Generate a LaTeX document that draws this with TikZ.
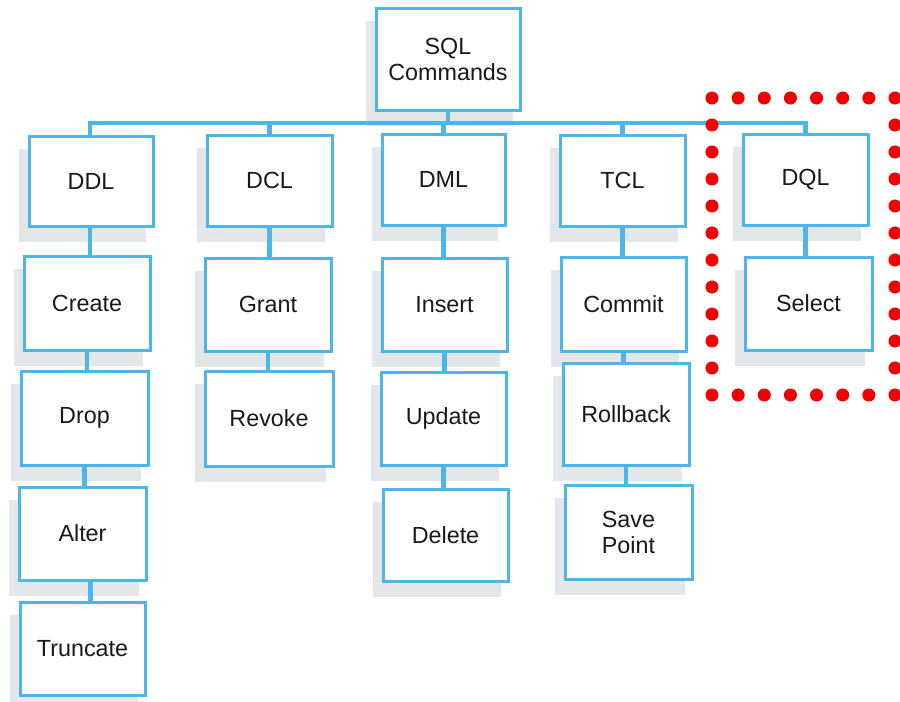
\documentclass[tikz,border=0pt]{standalone}
\usepackage{fontspec}
\setmainfont{Liberation Sans}
\usetikzlibrary{backgrounds,calc}
\definecolor{bluec}{RGB}{76,182,234}
\definecolor{shadowc}{RGB}{228,231,234}
\definecolor{dotred}{RGB}{240,0,0}
\definecolor{txt}{RGB}{25,25,25}
\tikzset{
  cmdbox/.style={draw=bluec, line width=2.25pt, fill=white, inner sep=0pt,
    align=center, text=txt, font=\fontsize{17.5}{19.5}\selectfont},
  conn/.style={draw=bluec, line width=3.4pt},
  boxshadow/.style={fill=shadowc},
  reddot/.style={fill=dotred}
}
\newcommand{\cmdnode}[6]{%
  \pgfmathsetmacro{\cx}{(#2+#4)/2}%
  \pgfmathsetmacro{\cy}{(#3+#5)/2}%
  \pgfmathsetmacro{\bw}{(#4-#2)*0.75}%
  \pgfmathsetmacro{\bh}{(#5-#3)*0.75}%
  \node[cmdbox, minimum width=\bw pt, minimum height=\bh pt] (#1) at (\cx,\cy) {#6};
  \begin{scope}[on background layer]
    \fill[boxshadow] ($(#1.south west)+(-9,14)$) rectangle ($(#1.north east)+(-9,14)$);
  \end{scope}
}
\begin{document}
\begin{tikzpicture}[x=0.75pt, y=-0.75pt]
\useasboundingbox (0,0) rectangle (900,701);

% root
\cmdnode{sql}{376}{8}{520}{110}{SQL\\Commands}
% level 1
\cmdnode{ddl}{29}{136}{153}{226}{DDL}
\cmdnode{dcl}{207}{135}{332}{226}{DCL}
\cmdnode{dml}{382}{134}{505}{225}{DML}
\cmdnode{tcl}{560}{135}{685}{226}{TCL}
\cmdnode{dql}{743}{134}{868}{225}{DQL}
% DDL column
\cmdnode{create}{24}{256}{150}{350}{Create}
\cmdnode{drop}{21}{371}{148}{465}{Drop}
\cmdnode{alter}{19}{487}{146}{580}{Alter}
\cmdnode{truncate}{20}{602}{145}{695}{Truncate}
% DCL column
\cmdnode{grant}{205}{258}{331}{351}{Grant}
\cmdnode{revoke}{205}{371}{333}{466}{Revoke}
% DML column
\cmdnode{insert}{382}{258}{507}{351}{Insert}
\cmdnode{update}{381}{372}{506}{465}{Update}
\cmdnode{delete}{383}{489}{508}{581}{Delete}
% TCL column
\cmdnode{commit}{561}{257}{686}{351}{Commit}
\cmdnode{rollback}{563}{363}{689}{465}{Rollback}
\cmdnode{savepoint}{565}{485}{692}{579}{Save\\Point}
% DQL column
\cmdnode{select}{745}{257}{872}{350}{Select}

% bus
\coordinate (bus) at (0,123);
\draw[conn] (sql.south) -- (sql.south |- bus);
\draw[conn] ([xshift=-1*0.75pt]ddl.north) -- ([xshift=-1*0.75pt]ddl.north |- bus) -| (dql.north);
\draw[conn] (dcl.north) -- (dcl.north |- bus);
\draw[conn] (dml.north) -- (dml.north |- bus);
\draw[conn] (tcl.north) -- (tcl.north |- bus);

% columns
\draw[conn] ([xshift=-1*0.75pt]ddl.south) -- ([xshift=-1*0.75pt]ddl.south |- create.north);
\draw[conn] (create.south) -- (create.south |- drop.north);
\draw[conn] (drop.south) -- (drop.south |- alter.north);
\draw[conn] ([xshift=8*0.75pt]alter.south) -- ([xshift=8*0.75pt]alter.south |- truncate.north);
\draw[conn] (dcl.south) -- (dcl.south |- grant.north);
\draw[conn] (grant.south) -- (grant.south |- revoke.north);
\draw[conn] (dml.south) -- (dml.south |- insert.north);
\draw[conn] (insert.south) -- (insert.south |- update.north);
\draw[conn] (update.south) -- (update.south |- delete.north);
\draw[conn] (tcl.south) -- (tcl.south |- commit.north);
\draw[conn] (commit.south) -- (commit.south |- rollback.north);
\draw[conn] (rollback.south) -- (rollback.south |- savepoint.north);
\draw[conn] (dql.south) -- (dql.south |- select.north);

% red dotted frame
\foreach \i in {0,...,7} {
  \fill[reddot] ({712+\i*26.14},98) circle[radius=4.9pt];
  \fill[reddot] ({712+\i*26.14},395) circle[radius=4.9pt];
}
\foreach \i in {1,...,10} {
  \fill[reddot] (712,{98+\i*27}) circle[radius=4.9pt];
  \fill[reddot] (895,{98+\i*27}) circle[radius=4.9pt];
}
\end{tikzpicture}
\end{document}
